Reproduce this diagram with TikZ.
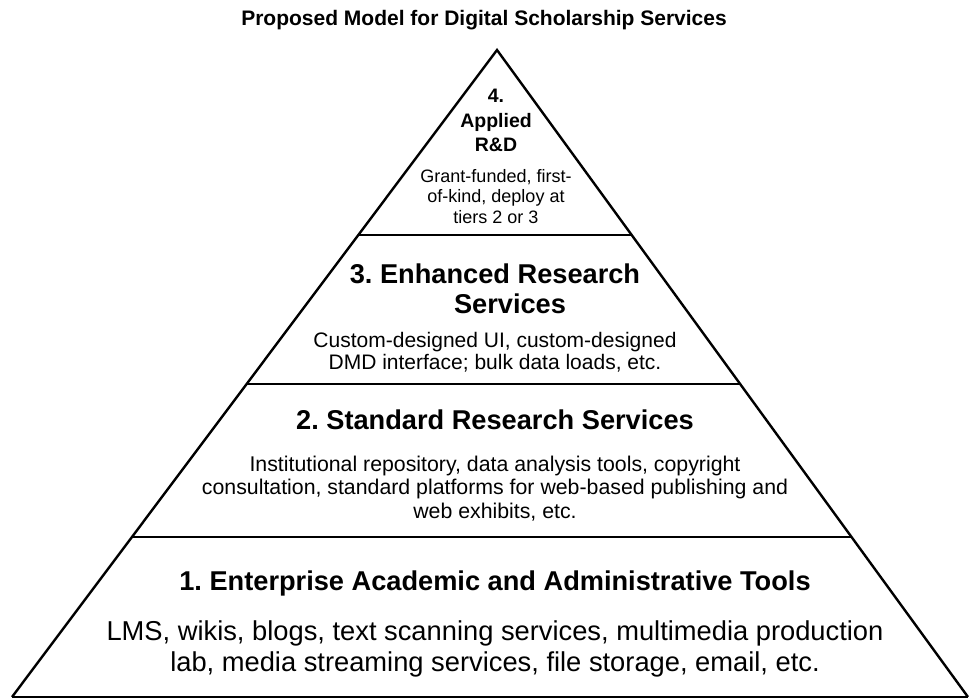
\documentclass[tikz,border=0pt]{standalone}
\usepackage{fontspec}
\setmainfont{Liberation Sans}
\usetikzlibrary{calc}
\frenchspacing
\tikzset{
  edge/.style={line width=2.4pt, line join=miter, black},
  divider/.style={line width=2.2pt, black},
  txt/.style={inner sep=0pt, anchor=base, align=center, text=black},
  headbig/.style={txt, font=\fontsize{27.2}{30}\selectfont\bfseries},
  headsmall/.style={txt, font=\fontsize{19.5}{24.5}\selectfont\bfseries},
  titlefont/.style={txt, font=\fontsize{21}{24}\selectfont\bfseries},
}
\begin{document}
\begin{tikzpicture}[x=1pt,y=-1pt]
\frenchspacing
\useasboundingbox (0,0) rectangle (969,698);
% pyramid
\coordinate (apex) at (497,50);
\coordinate (bl) at (12,697);
\coordinate (br) at (968,697);
\draw[edge] (bl) -- (apex) -- (br);
\draw[edge] (bl) -- (br);
% dividers
\coordinate (d1l) at ($(apex)!0.2859!(bl)$);
\coordinate (d1r) at ($(apex)!0.2859!(br)$);
\coordinate (d2l) at ($(apex)!0.5162!(bl)$);
\coordinate (d2r) at ($(apex)!0.5162!(br)$);
\coordinate (d3l) at ($(apex)!0.7527!(bl)$);
\coordinate (d3r) at ($(apex)!0.7527!(br)$);
\draw[divider] (d1l) -- (d1r);
\draw[divider] (d2l) -- (d2r);
\draw[divider] (d3l) -- (d3r);
% title
\node[titlefont] (title) at (484,26) {Proposed Model for Digital Scholarship Services};
% tier 4 (anchor = baseline of last line)
\node[headsmall] (t4h) at (496,152) {4.\\Applied\\R\&D};
\node[txt, font=\fontsize{18}{20.5}\selectfont] (t4b) at (496,223) {Grant-funded, first-\\of-kind, deploy at\\tiers 2 or 3};
% tier 3
\node[headbig] (t3h) at (495,283) {3. Enhanced Research};
\node[headbig] (t3h2) at (510,313) {Services};
\node[txt, font=\fontsize{21}{22}\selectfont] (t3b) at (495,369) {Custom-designed UI, custom-designed\\DMD interface; bulk data loads, etc.};
% tier 2
\node[headbig] (t2h) at (495,429) {2. Standard Research Services};
\node[txt, font=\fontsize{21.3}{23.5}\selectfont] (t2b) at (495,518) {Institutional repository, data analysis tools, copyright\\consultation, standard platforms for web-based publishing and\\web exhibits, etc.};
% tier 1
\node[headbig] (t1h) at (495,590) {1. Enterprise Academic and Administrative Tools};
\node[txt, font=\fontsize{27.3}{30.5}\selectfont] (t1b) at (495,671) {LMS, wikis, blogs, text scanning services, multimedia production\\lab, media streaming services, file storage, email, etc.};
\end{tikzpicture}
\end{document}
